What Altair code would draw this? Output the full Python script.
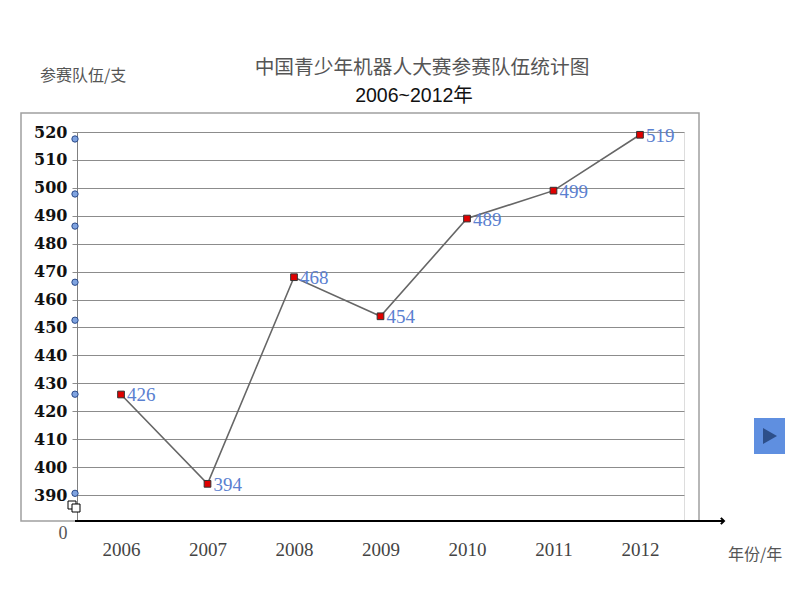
import altair as alt
import pandas as pd

# ---- data ----
years = [2006, 2007, 2008, 2009, 2010, 2011, 2012]
teams = [426, 394, 468, 454, 489, 499, 519]
y_ticks = [390, 400, 410, 420, 430, 440, 450, 460, 470, 480, 490, 500, 510, 520]
deco_dot_y = [517.5, 497.8, 486.3, 466.2, 452.6, 426.1, 390.6]

title_main = "中国青少年机器人大赛参赛队伍统计图"
title_sub = "2006~2012年"
y_title = "参赛队伍/支"
x_title = "年份/年"

df = pd.DataFrame({"year": years, "teams": teams})
dots = pd.DataFrame({"teams": deco_dot_y})
one = pd.DataFrame({"a": [0]})

W, H = 607, 389
xs = alt.Scale(domain=[2005.491, 2012.509], nice=False, zero=False)
ys = alt.Scale(domain=[380.69, 520], nice=False, zero=False)

x_axis = alt.Axis(values=years, labelExpr="datum.value", title=None, grid=False,
                  ticks=False, domain=False, labelFont="Liberation Serif",
                  labelFontSize=19, labelColor="#444444", labelPadding=28,
                  labelBaseline="middle", labelOverlap=False)
y_axis = alt.Axis(values=y_ticks, title=None, grid=True, gridColor="#8c8c8c",
                  gridWidth=1, tickColor="#8c8c8c", tickSize=5,
                  domainColor="#808080", labelFont="DejaVu Serif",
                  labelFontWeight="bold", labelFontSize=16, labelColor="#111111",
                  labelPadding=5, labelOverlap=False, labelBound=False,
                  labelFlush=False)
X = alt.X("year:Q", scale=xs, axis=x_axis)
Y = alt.Y("teams:Q", scale=ys, axis=y_axis)

base = alt.Chart(df)

frame = alt.Chart(one).mark_rect(fillOpacity=0, stroke="#a0a0a0", strokeWidth=1.5).encode(
    x=alt.value(-56), x2=alt.value(622), y=alt.value(-19), y2=alt.value(389))

line = base.mark_line(color="#666666", strokeWidth=1.6).encode(x=X, y=Y)
pts = base.mark_square(size=45, color="#e00000", stroke="#333333", strokeWidth=1,
                       opacity=1).encode(x=X, y=Y)
labels = base.mark_text(align="left", baseline="middle", dx=6, dy=1,
                        font="Liberation Serif", fontSize=19, color="#5a80d0").encode(
    x=X, y=Y, text="teams:Q")

xaxis = alt.Chart(one).mark_rule(color="black", strokeWidth=2).encode(
    x=alt.value(-2), x2=alt.value(646), y=alt.value(389))
arrow = alt.Chart(one).mark_point(shape="M-1,-1L0,0L-1,1", filled=False, color="black",
                                  strokeWidth=2, size=40, opacity=1).encode(
    x=alt.value(647), y=alt.value(389))

deco = alt.Chart(dots).mark_circle(size=40, fill="#7fa3e0", stroke="#2a4a8a",
                                   strokeWidth=1, opacity=1).encode(
    x=alt.value(-2), y=Y)
sq1 = alt.Chart(one).mark_square(size=64, fill="white", stroke="black",
                                 strokeWidth=1, opacity=1).encode(
    x=alt.value(-5), y=alt.value(373))
sq2 = alt.Chart(one).mark_square(size=64, fill="white", stroke="black",
                                 strokeWidth=1, opacity=1).encode(
    x=alt.value(-1), y=alt.value(376))

btn = alt.Chart(one).mark_rect(fill="#5f8fe0").encode(
    x=alt.value(677), x2=alt.value(708), y=alt.value(286), y2=alt.value(322))
tri = alt.Chart(one).mark_point(shape="triangle-right", filled=True, color="#2d4f8a",
                                size=260, opacity=1).encode(
    x=alt.value(693), y=alt.value(304))

def txt(s, x, y, size, color, font="Noto Sans CJK SC", align="center"):
    return alt.Chart(one).mark_text(text=s, font=font, fontSize=size, color=color,
                                    align=align, baseline="middle").encode(
        x=alt.value(x), y=alt.value(y))

t1 = txt(title_main, 345, -64, 19.7, "#555555")
t2 = txt(title_sub, 337, -36, 19.5, "#111111", font="Liberation Sans, Noto Sans CJK SC")
t3 = txt(y_title, -37, -56, 16, "#555555", align="left")
t4 = txt(x_title, 651, 423, 16, "#555555", align="left")
t0 = txt("0", -14, 402, 18, "#555555", font="Liberation Serif")

chart = alt.layer(frame, line, xaxis, arrow, deco, sq1, sq2, pts, labels,
                  btn, tri, t1, t2, t3, t4, t0).properties(
    width=W, height=H,
    autosize=alt.AutoSizeParams(type="none"),
    padding={"left": 69, "top": 124, "right": 102, "bottom": 60},
).configure_view(stroke=None).configure(background="white")

chart.save("out.html", embed_options={"renderer": "svg", "actions": False})
